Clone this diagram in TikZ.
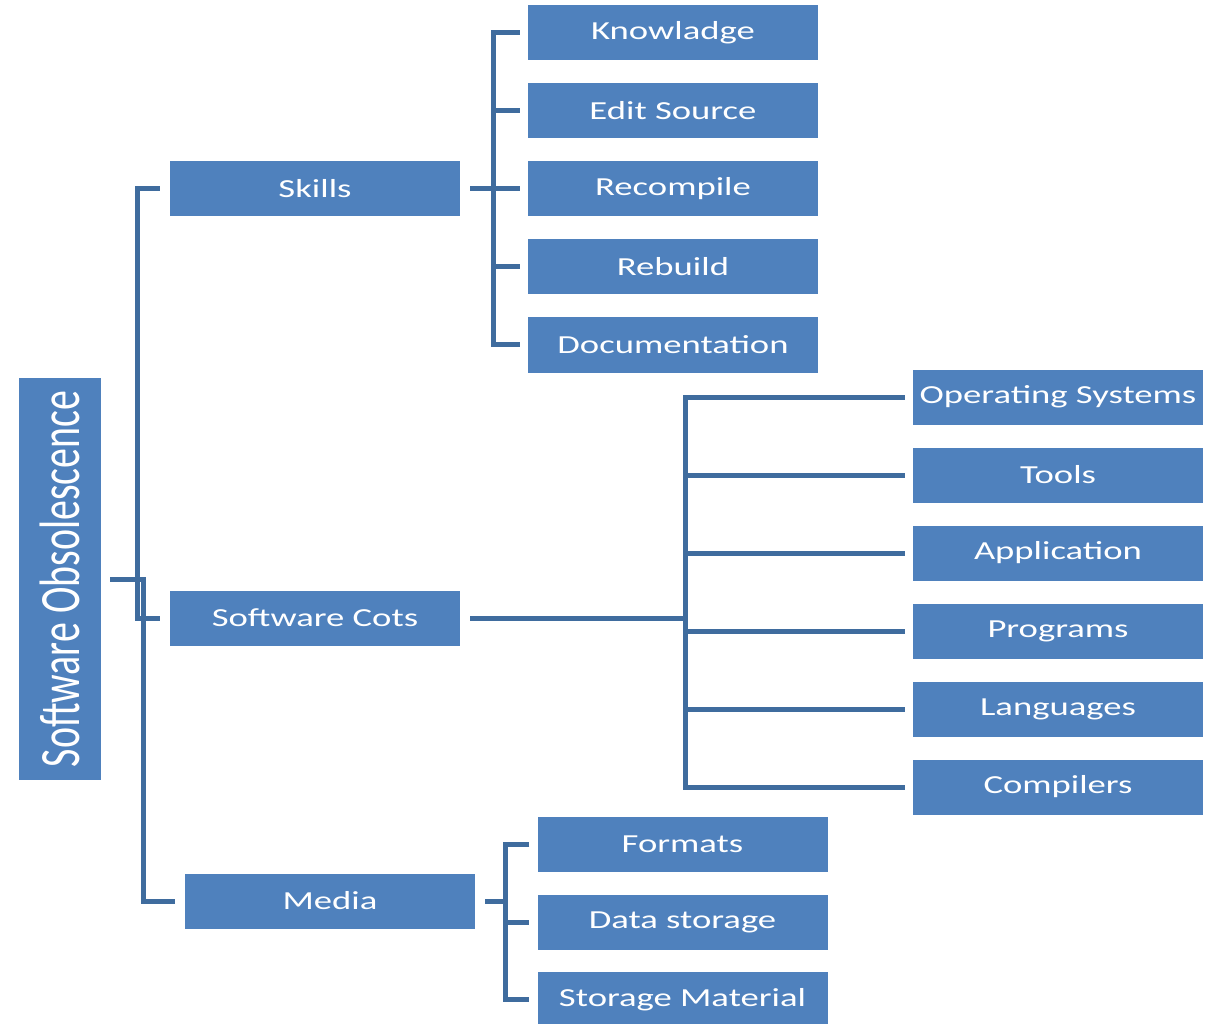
\documentclass[tikz,border=0pt]{standalone}
\usepackage{fontspec}
\setmainfont{Carlito}
\usepackage{graphicx}
\definecolor{boxblue}{HTML}{4F81BD}
\definecolor{lineblue}{HTML}{3F6C9E}
\newcommand\boxtxt[1]{\scalebox{1.41}[1]{\fontsize{26}{30}\selectfont #1}}
\newcommand\roottxt[1]{\scalebox{0.70}[1]{\fontsize{57}{60}\selectfont #1}}
\begin{document}
\begin{tikzpicture}[x=1pt,y=-1pt,
  box/.style={fill=boxblue, minimum width=290pt, minimum height=55pt, inner sep=0pt, text=white},
  conn/.style={draw=lineblue, line width=5pt}]
\useasboundingbox (0,0) rectangle (1205,1024);
% root
\node[box, minimum width=402pt, minimum height=82pt, rotate=90] (root) at (60,579) {\roottxt{Software Obsolescence}};
% level 1
\node[box] (skills) at (315,189) {\boxtxt{Skills}};
\node[box] (cots) at (315,618) {\boxtxt{Software Cots}};
\node[box] (media) at (330,901) {\boxtxt{Media}};
% skills children
\node[box] (know) at (673,33) {\boxtxt{Knowladge}};
\node[box] (edit) at (673,111) {\boxtxt{Edit Source}};
\node[box] (recomp) at (673,189) {\boxtxt{Recompile}};
\node[box] (rebuild) at (673,267) {\boxtxt{Rebuild}};
\node[box] (doc) at (673,345) {\boxtxt{Documentation}};
% cots children
\node[box] (os) at (1058,397) {\boxtxt{Operating Systems}};
\node[box] (tools) at (1058,475) {\boxtxt{Tools}};
\node[box] (app) at (1058,553) {\boxtxt{Application}};
\node[box] (prog) at (1058,631) {\boxtxt{Programs}};
\node[box] (lang) at (1058,709) {\boxtxt{Languages}};
\node[box] (comp) at (1058,787) {\boxtxt{Compilers}};
% media children
\node[box] (formats) at (682.5,844) {\boxtxt{Formats}};
\node[box] (data) at (682.5,922) {\boxtxt{Data storage}};
\node[box] (smat) at (682.5,999.5) {\boxtxt{Storage Material}};
% bus coordinates
\coordinate (busA) at (137,0);
\coordinate (busB) at (143,0);
\coordinate (sbus) at (493,0);
\coordinate (cbus) at (685,0);
\coordinate (mbus) at (505,0);
% root connectors
\draw[conn] ([xshift=-10pt]skills.west) -- (busA |- skills.west) -- (busA |- cots.west) -- ([xshift=-10pt]cots.west);
\draw[conn] ([xshift=9pt]root.south) -- (busB |- root.south) -- (busB |- media.west) -- ([xshift=-10pt]media.west);
% skills connectors
\draw[conn] ([xshift=10pt]skills.east) -- (sbus |- skills.east);
\draw[conn] ([xshift=-8pt]know.west) -| (sbus |- doc.west) -- ([xshift=-8pt]doc.west);
\foreach \n in {edit,recomp,rebuild}
  \draw[conn] (sbus |- \n.west) -- ([xshift=-8pt]\n.west);
% cots connectors
\draw[conn] ([xshift=10pt]cots.east) -- (cbus |- cots.east);
\draw[conn] ([xshift=-8pt]os.west) -| (cbus |- comp.west) -- ([xshift=-8pt]comp.west);
\foreach \n in {tools,app,prog,lang}
  \draw[conn] (cbus |- \n.west) -- ([xshift=-8pt]\n.west);
% media connectors
\draw[conn] ([xshift=10pt]media.east) -- (mbus |- media.east);
\draw[conn] ([xshift=-8pt]formats.west) -| (mbus |- smat.west) -- ([xshift=-8pt]smat.west);
\draw[conn] (mbus |- data.west) -- ([xshift=-8pt]data.west);
\end{tikzpicture}
\end{document}
